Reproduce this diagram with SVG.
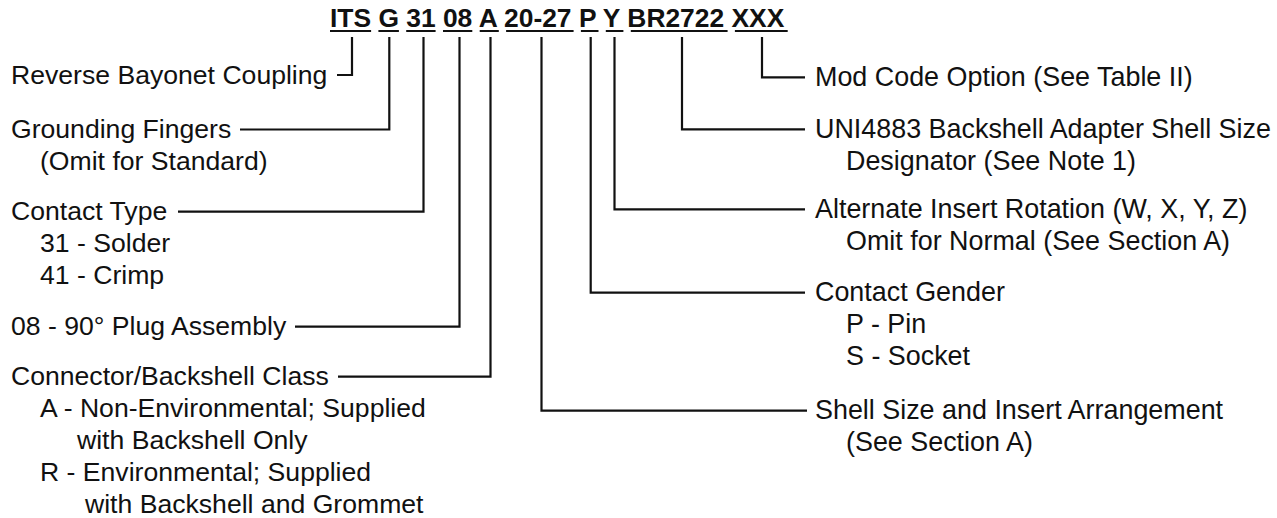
<svg xmlns="http://www.w3.org/2000/svg" width="1277" height="518" viewBox="0 0 1277 518">
<style>
text{font-family:"Liberation Sans",Arial,sans-serif;font-size:26.6px;fill:#111111}
.hdr{font-weight:bold;font-size:26.4px}
.r{font-size:26.9px}
.ln{fill:none;stroke:#111111;stroke-width:2.2;stroke-linejoin:miter;stroke-linecap:butt}
.ul{stroke:#111111;stroke-width:2}
</style>
<rect width="1277" height="518" fill="#ffffff"/>
<g id="header">
<text class="hdr" x="330" y="27">ITS G 31 08 A 20-27 P Y BR2722 XXX</text>
<g class="ul">
<line x1="330" y1="31" x2="371.1" y2="31"/>
<line x1="378.4" y1="31" x2="398.9" y2="31"/>
<line x1="406.2" y1="31" x2="435.6" y2="31"/>
<line x1="443" y1="31" x2="472.3" y2="31"/>
<line x1="479.7" y1="31" x2="498.8" y2="31"/>
<line x1="506.1" y1="31" x2="573.6" y2="31"/>
<line x1="580.9" y1="31" x2="598.5" y2="31"/>
<line x1="605.8" y1="31" x2="623.4" y2="31"/>
<line x1="630.8" y1="31" x2="727.6" y2="31"/>
<line x1="734.9" y1="31" x2="787.7" y2="31"/>
</g>
</g>
<g id="connectors">
<path class="ln" d="M352 37 V75 H337"/>
<path class="ln" d="M389.3 37 V129.5 H240"/>
<path class="ln" d="M423.5 37 V211.7 H178"/>
<path class="ln" d="M459.5 37 V326.7 H295"/>
<path class="ln" d="M490.5 37 V376.7 H338"/>
<path class="ln" d="M541.5 37 V410.7 H807"/>
<path class="ln" d="M590.7 37 V292.7 H805"/>
<path class="ln" d="M614.5 37 V209.3 H805"/>
<path class="ln" d="M682 37 V129.3 H805"/>
<path class="ln" d="M762 37 V77.3 H805"/>
</g>
<g id="node-coupling"><text x="11" y="84">Reverse Bayonet Coupling</text></g>
<g id="node-grounding"><text x="11" y="138">Grounding Fingers</text><text x="40" y="170">(Omit for Standard)</text></g>
<g id="node-contact-type"><text x="11" y="220">Contact Type</text><text x="40" y="252">31 - Solder</text><text x="40" y="284">41 - Crimp</text></g>
<g id="node-plug"><text x="11" y="335">08 - 90° Plug Assembly</text></g>
<g id="node-class"><text x="11" y="385">Connector/Backshell Class</text><text x="40" y="417">A - Non-Environmental; Supplied</text><text x="77" y="449">with Backshell Only</text><text x="40" y="481">R - Environmental; Supplied</text><text x="85" y="513">with Backshell and Grommet</text></g>
<g id="node-mod"><text class="r" x="815" y="86">Mod Code Option (See Table II)</text></g>
<g id="node-uni"><text class="r" x="815" y="138">UNI4883 Backshell Adapter Shell Size</text><text class="r" x="846" y="170">Designator (See Note 1)</text></g>
<g id="node-rotation"><text class="r" x="815" y="218">Alternate Insert Rotation (W, X, Y, Z)</text><text class="r" x="846" y="250">Omit for Normal (See Section A)</text></g>
<g id="node-gender"><text class="r" x="815" y="301">Contact Gender</text><text class="r" x="846" y="333">P - Pin</text><text class="r" x="846" y="365">S - Socket</text></g>
<g id="node-shell"><text class="r" x="815" y="419">Shell Size and Insert Arrangement</text><text class="r" x="846" y="451">(See Section A)</text></g>
</svg>
